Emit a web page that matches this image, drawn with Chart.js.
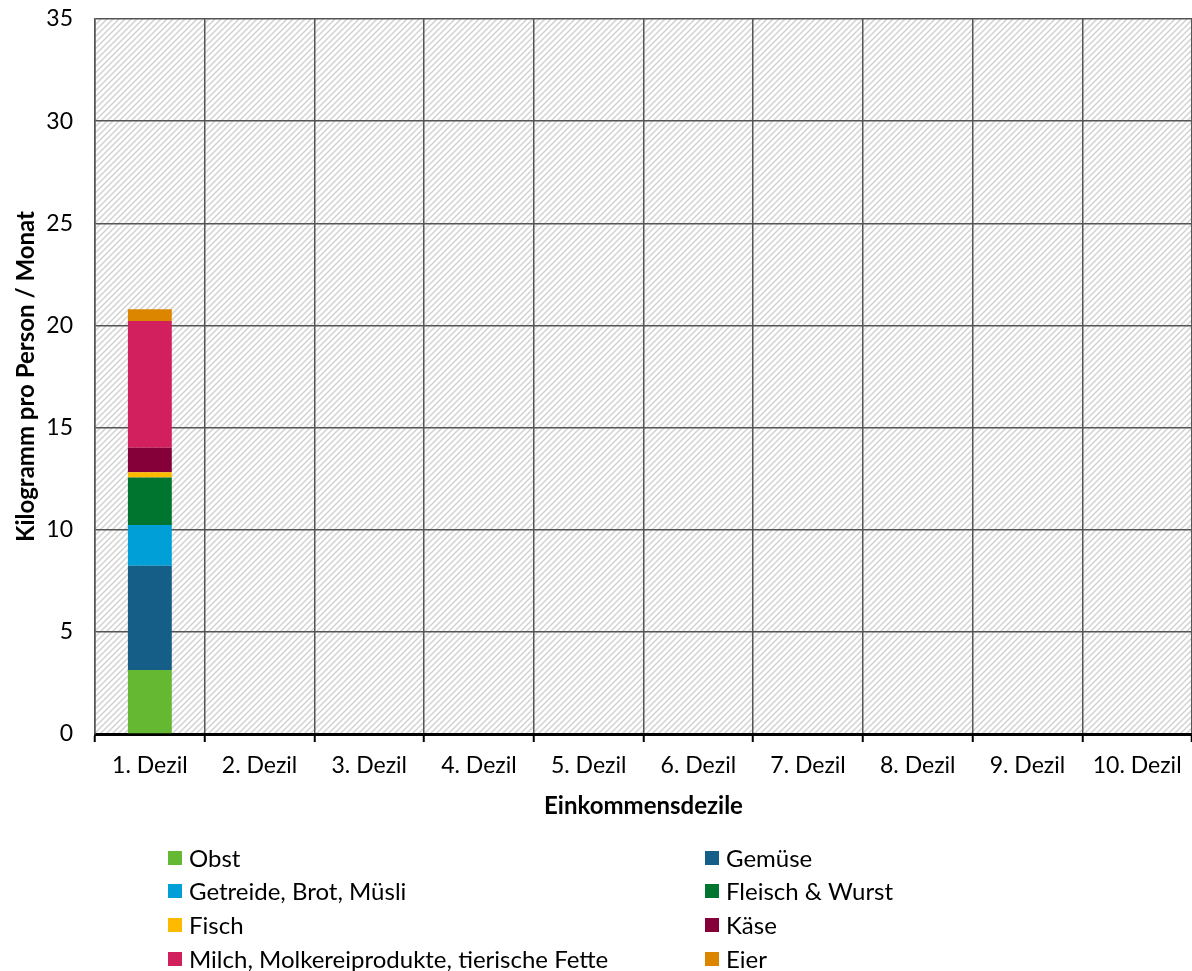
<!DOCTYPE html>
<html>
<head>
<meta charset="utf-8">
<script src="https://cdn.jsdelivr.net/npm/chart.js@4.4.0/dist/chart.umd.min.js"></script>
<style>
  html, body { margin: 0; padding: 0; background: #fff; }
  #wrap { width: 1192px; height: 971px; position: relative; }
</style>
</head>
<body>
<div id="wrap"><canvas id="chart"></canvas></div>
<script>
const deciles = ['1. Dezil', '2. Dezil', '3. Dezil', '4. Dezil', '5. Dezil',
  '6. Dezil', '7. Dezil', '8. Dezil', '9. Dezil', '10. Dezil'];

// kg per person and month, only the first decile is filled so far
const obst     = [3.13, null, null, null, null, null, null, null, null, null];
const gemuese  = [5.11, null, null, null, null, null, null, null, null, null];
const getreide = [1.99, null, null, null, null, null, null, null, null, null];
const fleisch  = [2.32, null, null, null, null, null, null, null, null, null];
const fisch    = [0.26, null, null, null, null, null, null, null, null, null];
const kaese    = [1.20, null, null, null, null, null, null, null, null, null];
const milch    = [6.21, null, null, null, null, null, null, null, null, null];
const eier     = [0.57, null, null, null, null, null, null, null, null, null];

const yTicks = [0, 5, 10, 15, 20, 25, 30, 35];

const FONT = 'Lato, "Open Sans", sans-serif';

// diagonal hatching behind the plot
const hatch = (function() {
  const c = document.createElement('canvas');
  c.width = 6; c.height = 6;
  const g = c.getContext('2d');
  g.strokeStyle = '#d2d2d2';
  g.lineWidth = 1.5;
  g.beginPath();
  g.moveTo(-1, 7); g.lineTo(7, -1);
  g.moveTo(-4, 4); g.lineTo(4, -4);
  g.moveTo(2, 10); g.lineTo(10, 2);
  g.stroke();
  return c;
})();

const hatchPlugin = {
  id: 'hatch',
  beforeDraw(chart) {
    const { ctx, chartArea: a } = chart;
    ctx.save();
    ctx.fillStyle = ctx.createPattern(hatch, 'repeat');
    ctx.fillRect(a.left, a.top, a.right - a.left, a.bottom - a.top);
    ctx.restore();
  }
};

// two-column legend under the x axis title
const legendPlugin = {
  id: 'twoColLegend',
  afterDraw(chart) {
    const ctx = chart.ctx;
    const cols = [168, 705];
    const rows = [858, 891, 925, 959];
    ctx.save();
    ctx.font = '24px ' + FONT;
    ctx.textBaseline = 'middle';
    chart.data.datasets.forEach(function(ds, i) {
      const x = cols[i % 2];
      const y = rows[Math.floor(i / 2)];
      ctx.fillStyle = ds.backgroundColor;
      ctx.fillRect(x, y - 7, 14, 14);
      ctx.fillStyle = '#000';
      ctx.fillText(ds.label, x + 21, y + 1);
    });
    ctx.restore();
  }
};

function series(label, data, color) {
  return { label: label, data: data, backgroundColor: color, borderWidth: 0 };
}

new Chart(document.getElementById('chart'), {
  type: 'bar',
  data: {
    labels: deciles,
    datasets: [
      series('Obst', obst, '#65b832'),
      series('Gemüse', gemuese, '#155e87'),
      series('Getreide, Brot, Müsli', getreide, '#009fd7'),
      series('Fleisch & Wurst', fleisch, '#007530'),
      series('Fisch', fisch, '#fdba00'),
      series('Käse', kaese, '#850038'),
      series('Milch, Molkereiprodukte, tierische Fette', milch, '#d1205d'),
      series('Eier', eier, '#dc8600')
    ]
  },
  options: {
    responsive: true,
    maintainAspectRatio: false,
    animation: false,
    layout: { padding: { top: 19, left: 0, right: 0, bottom: 147 } },
    datasets: { bar: { barPercentage: 0.4, categoryPercentage: 1 } },
    plugins: {
      legend: { display: false },
      tooltip: { enabled: false }
    },
    scales: {
      x: {
        stacked: true,
        grid: {
          offset: true,
          color: '#555',
          lineWidth: 1.5,
          tickColor: '#000',
          tickWidth: 2,
          tickLength: 8
        },
        border: { color: '#000', width: 3 },
        ticks: { color: '#000', font: { family: FONT, size: 23 }, padding: 10 },
        title: {
          display: true,
          text: 'Einkommensdezile',
          color: '#000',
          font: { family: FONT, size: 24, weight: 'bold' },
          padding: { top: 8, bottom: 3 }
        },
        afterFit(scale) { scale.height = 90; }
      },
      y: {
        stacked: true,
        min: 0,
        max: 35,
        afterBuildTicks(scale) { scale.ticks = yTicks.map(v => ({ value: v })); },
        grid: { color: '#555', lineWidth: 1.5, drawTicks: false },
        border: { color: '#555', width: 1.5 },
        ticks: { color: '#000', font: { family: FONT, size: 23 }, padding: 22 },
        title: {
          display: true,
          text: 'Kilogramm pro Person / Monat',
          color: '#000',
          font: { family: FONT, size: 24, weight: 'bold' },
          padding: { top: 12, bottom: 4 }
        },
        afterFit(scale) {
          scale.width = 95;
          scale.paddingTop = 0;
          scale.paddingBottom = 0;
        }
      }
    }
  },
  plugins: [hatchPlugin, legendPlugin]
});
</script>
</body>
</html>
